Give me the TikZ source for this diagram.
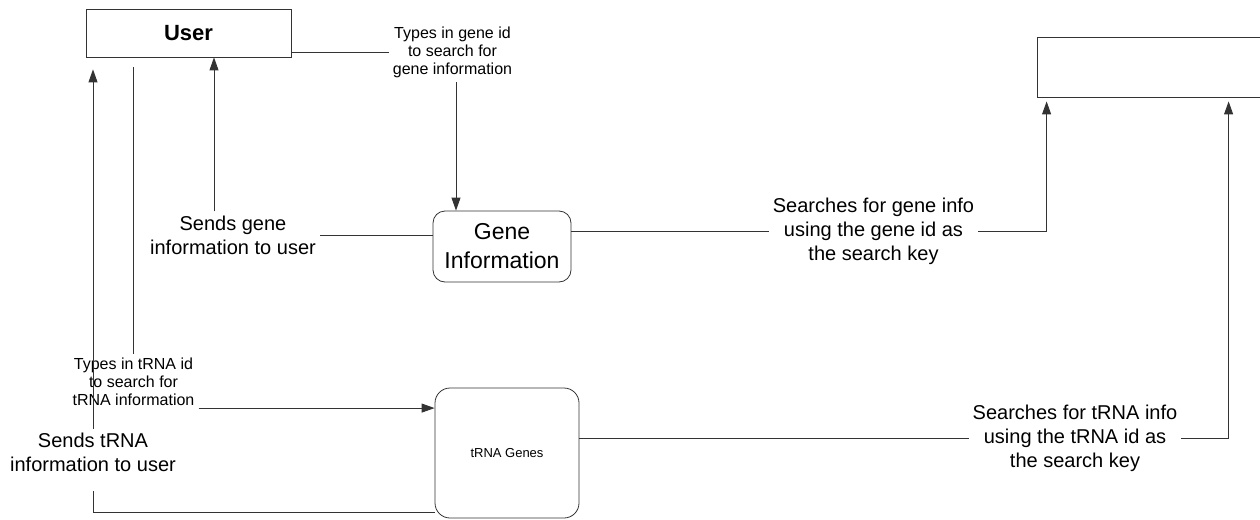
\documentclass[tikz,border=0pt]{standalone}
\usepackage{fontspec}
\setmainfont{Liberation Sans}
\usetikzlibrary{arrows.meta, positioning, calc}

\tikzset{
  entity/.style={draw=black!80, line width=0.8pt, minimum width=205pt, minimum height=48pt,
                 font=\fontsize{22}{26}\selectfont\bfseries},
  datastore/.style={draw=black!80, line width=0.8pt, minimum width=226pt, minimum height=60pt},
  process/.style={draw=black!80, line width=0.8pt, rounded corners=12pt, align=center},
  smalllbl/.style={align=center, inner sep=4pt, font=\fontsize{16}{18}\selectfont},
  biglbl/.style={align=center, inner sep=4pt, font=\fontsize{20}{24}\selectfont},
  link/.style={draw=black!80, line width=0.9pt},
  flow/.style={link, -{Triangle[length=13pt, width=9pt]}},
}

\begin{document}
\begin{tikzpicture}[x=1pt, y=-1pt]
  \useasboundingbox (0,0) rectangle (1260,519);

  %% entity, data store and the two processes
  \node[entity] (user) at (188.5,33) {User};
  \node[datastore] (store) at (1150,67) {};
  \node[process, minimum width=138pt, minimum height=71pt, font=\fontsize{23}{29}\selectfont]
    (geneinfo) at (502,246.5) {Gene\\Information};
  \node[process, rounded corners=15pt, minimum width=144pt, minimum height=130pt,
        font=\fontsize{13}{16}\selectfont]
    (trna) at (507,453) {tRNA Genes};

  %% flow labels
  \node[smalllbl] (typegene) at (452.5,52.6) {Types in gene id\\to search for\\gene information};
  \node[biglbl] (sendgene) at (233,235) {Sends gene\\information to user};
  \node[biglbl] (srchgene) at (873.5,231) {Searches for gene info\\using the gene id as\\the search key};
  \node[smalllbl] (typetrna) at (133.5,382) {Types in tRNA id\\to search for\\tRNA information};
  \node[biglbl] (sendtrna) at (93,452.5) {Sends tRNA\\information to user};
  \node[biglbl] (srchtrna) at (1075,438.5) {Searches for tRNA info\\using the tRNA id as\\the search key};

  %% gene flows
  \draw[link] (user.east |- typegene.west) -- (typegene.west);
  \draw[flow] ([xshift=3.5pt]typegene.south) -- ([xshift=3.5pt]typegene.south |- geneinfo.north);
  \draw[link] (geneinfo.west |- sendgene.east) -- (sendgene.east);
  \draw[flow] ([xshift=-19pt]sendgene.north) -- ([xshift=-19pt]sendgene.north |- user.south);
  \draw[link] (geneinfo.east |- srchgene.west) -- (srchgene.west);
  \draw[flow, shorten >=4pt] (srchgene.east) -| ([xshift=10pt]store.south west);

  %% tRNA flows
  \draw[link] ([yshift=-10pt]typetrna.north |- user.south) -- (typetrna.north);
  \draw[flow] ([yshift=2pt]typetrna.south east) -- ([yshift=2pt]typetrna.south east -| trna.west);
  \draw[link] (trna.east |- srchtrna.west) -- (srchtrna.west);
  \draw[flow, shorten >=4pt] (srchtrna.east) -| ([xshift=192pt]store.south west);
  \draw[link, shorten >=15pt] ([yshift=6pt]trna.south west) -| (sendtrna.south);
  \draw[flow, shorten >=12pt] (sendtrna.north) -- (sendtrna.north |- user.south);
\end{tikzpicture}
\end{document}
